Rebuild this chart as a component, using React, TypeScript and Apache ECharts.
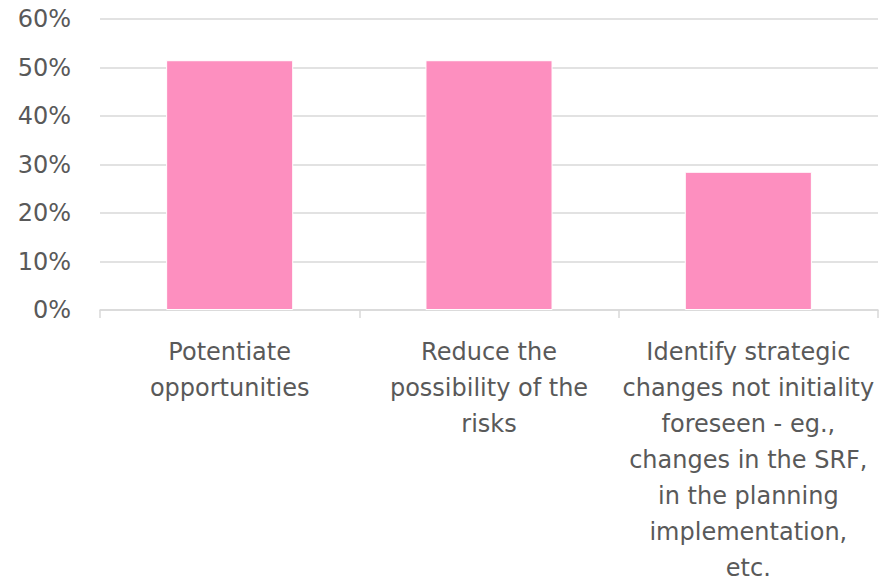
import React, { useEffect, useRef } from "react";
import * as echarts from "echarts";

const categories: string[] = [
  "Potentiate\nopportunities",
  "Reduce the\npossibility of the\nrisks",
  "Identify strategic\nchanges not initiality\nforeseen - eg.,\nchanges in the SRF,\nin the planning\nimplementation,\netc.",
];
const values: number[] = [51.5, 51.5, 28.5];
const yTicks = { min: 0, max: 60, interval: 10 };

export default function App() {
  const ref = useRef<HTMLDivElement>(null);
  useEffect(() => {
    if (!ref.current) return;
    const chart = echarts.init(ref.current, null, { renderer: "svg" });
    chart.setOption({
      animation: false,
      grid: { left: 100, right: 1, top: 19, bottom: 271, containLabel: false, outerBoundsMode: "none" },
      xAxis: {
        type: "category",
        data: categories,
        axisLine: { lineStyle: { color: "#d9d9d9", width: 1.5 } },
        axisTick: { show: true, length: 8, lineStyle: { color: "#d9d9d9", width: 1.5 } },
        axisLabel: {
          color: "#595959",
          fontFamily: "DejaVu Sans",
          fontSize: 24,
          lineHeight: 36,
          margin: 24,
          interval: 0,
          align: "center",
        },
      },
      yAxis: {
        type: "value",
        min: yTicks.min,
        max: yTicks.max,
        interval: yTicks.interval,
        axisLine: { show: false },
        axisTick: { show: false },
        splitLine: { lineStyle: { color: "#d9d9d9", width: 1.5 } },
        axisLabel: {
          formatter: "{value}%",
          color: "#595959",
          fontFamily: "DejaVu Sans",
          fontSize: 24,
          margin: 29,
        },
      },
      series: [
        {
          type: "bar",
          data: values,
          barWidth: "49%",
          itemStyle: { color: "#fd8fbf", borderColor: "#ffffff", borderWidth: 1 },
        },
      ],
    });
    return () => chart.dispose();
  }, []);
  return (
    <div
      ref={ref}
      style={{ position: "fixed", left: 0, top: 0, width: 879, height: 581, background: "#fff" }}
    />
  );
}
